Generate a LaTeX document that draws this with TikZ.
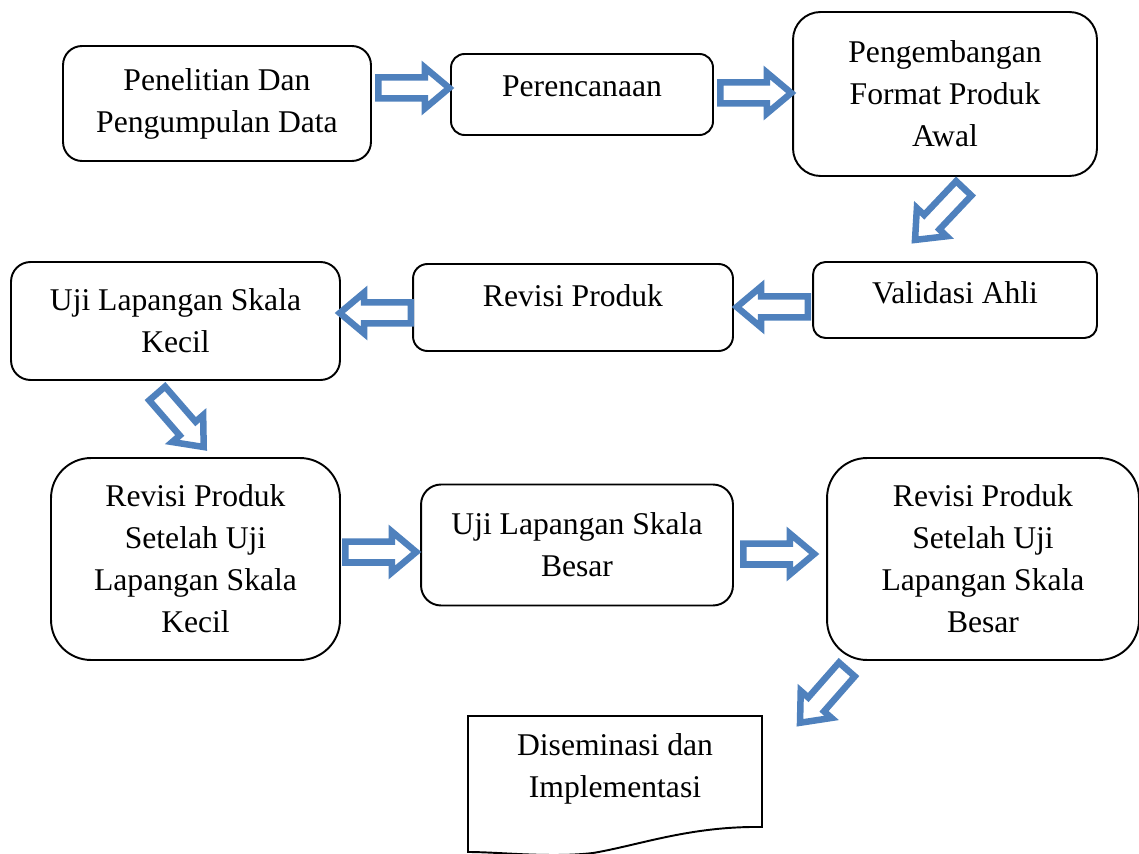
\documentclass[tikz,border=0pt]{standalone}
\usepackage{fontspec}
\setmainfont{Liberation Serif}
\usetikzlibrary{shapes.arrows}
\definecolor{birupanah}{HTML}{4F81BD}
\tikzset{
  kotak/.style={draw, line width=1.1pt, align=center, inner sep=0pt},
  panah/.style={single arrow, draw=birupanah, fill=white, line width=3.7pt,
    minimum width=0.69cm, minimum height=1.42cm, inner sep=0.145cm,
    single arrow head extend=0.2cm, single arrow tip angle=80, anchor=tail}
}
\begin{document}
\begin{tikzpicture}[x=0.02cm, y=-0.02cm, font=\fontsize{18}{23.9}\selectfont]
                \useasboundingbox (0,0) rectangle (1139,854);
                % Kotak
                \node[kotak, rounded corners=0.38cm, minimum width=6.16cm, minimum height=2.3cm] at (217,103.5) (penelitian) {Penelitian Dan\\Pengumpulan Data};
                \node[kotak, rounded corners=0.27cm, minimum width=5.24cm, minimum height=1.62cm, text depth=0.32cm] at (582,94.5) (perencanaan) {Perencanaan};
                \node[kotak, rounded corners=0.55cm, minimum width=6.08cm, minimum height=3.28cm] at (945,94) (pengembangan) {Pengembangan\\Format Produk\\Awal};
                \node[kotak, rounded corners=0.25cm, minimum width=5.68cm, minimum height=1.52cm, text depth=0.28cm] at (955,300) (validasi) {Validasi Ahli};
                \node[kotak, rounded corners=0.29cm, minimum width=6.4cm, minimum height=1.74cm, text depth=0.46cm] at (573,307.5) (revisi) {Revisi Produk};
                \node[kotak, rounded corners=0.39cm, minimum width=6.58cm, minimum height=2.36cm] at (175.5,321) (ujikecil) {Uji Lapangan Skala\\Kecil};
                \node[kotak, rounded corners=0.8cm, minimum width=5.78cm, minimum height=4.04cm] at (195.5,559) (revisikecil) {Revisi Produk\\Setelah Uji\\Lapangan Skala\\Kecil};
                \node[kotak, rounded corners=0.4cm, minimum width=6.24cm, minimum height=2.42cm] at (577,545) (ujibesar) {Uji Lapangan Skala\\Besar};
                \node[kotak, rounded corners=0.8cm, minimum width=6.24cm, minimum height=4.04cm] at (983,559) (revisibesar) {Revisi Produk\\Setelah Uji\\Lapangan Skala\\Besar};
                \node[align=center] at (615,769) (diseminasi) {Diseminasi dan\\Implementasi};
                \draw[line width=1.1pt] (468,716) -- (762,716) -- (762,827)
                    .. controls (690,826) and (640,845) .. (593,853)
                    .. controls (550,858) and (500,852) .. (468,852) -- cycle;

                % Panah
                \node[panah] at (375,88) (p1) {};
                \node[panah] at (717,93) (p2) {};
                \node[panah, rotate=226.6] at (966,186) (p3) {};
                \node[panah, rotate=180] at (811,307) (p4) {};
                \node[panah, rotate=180] at (414,313) (p5) {};
                \node[panah, rotate=-49] at (155,391) (p6) {};
                \node[panah] at (342,552) (p7) {};
                \node[panah] at (740,554) (p8) {};
                \node[panah, rotate=228.7] at (849,667) (p9) {};
            \end{tikzpicture}
\end{document}
